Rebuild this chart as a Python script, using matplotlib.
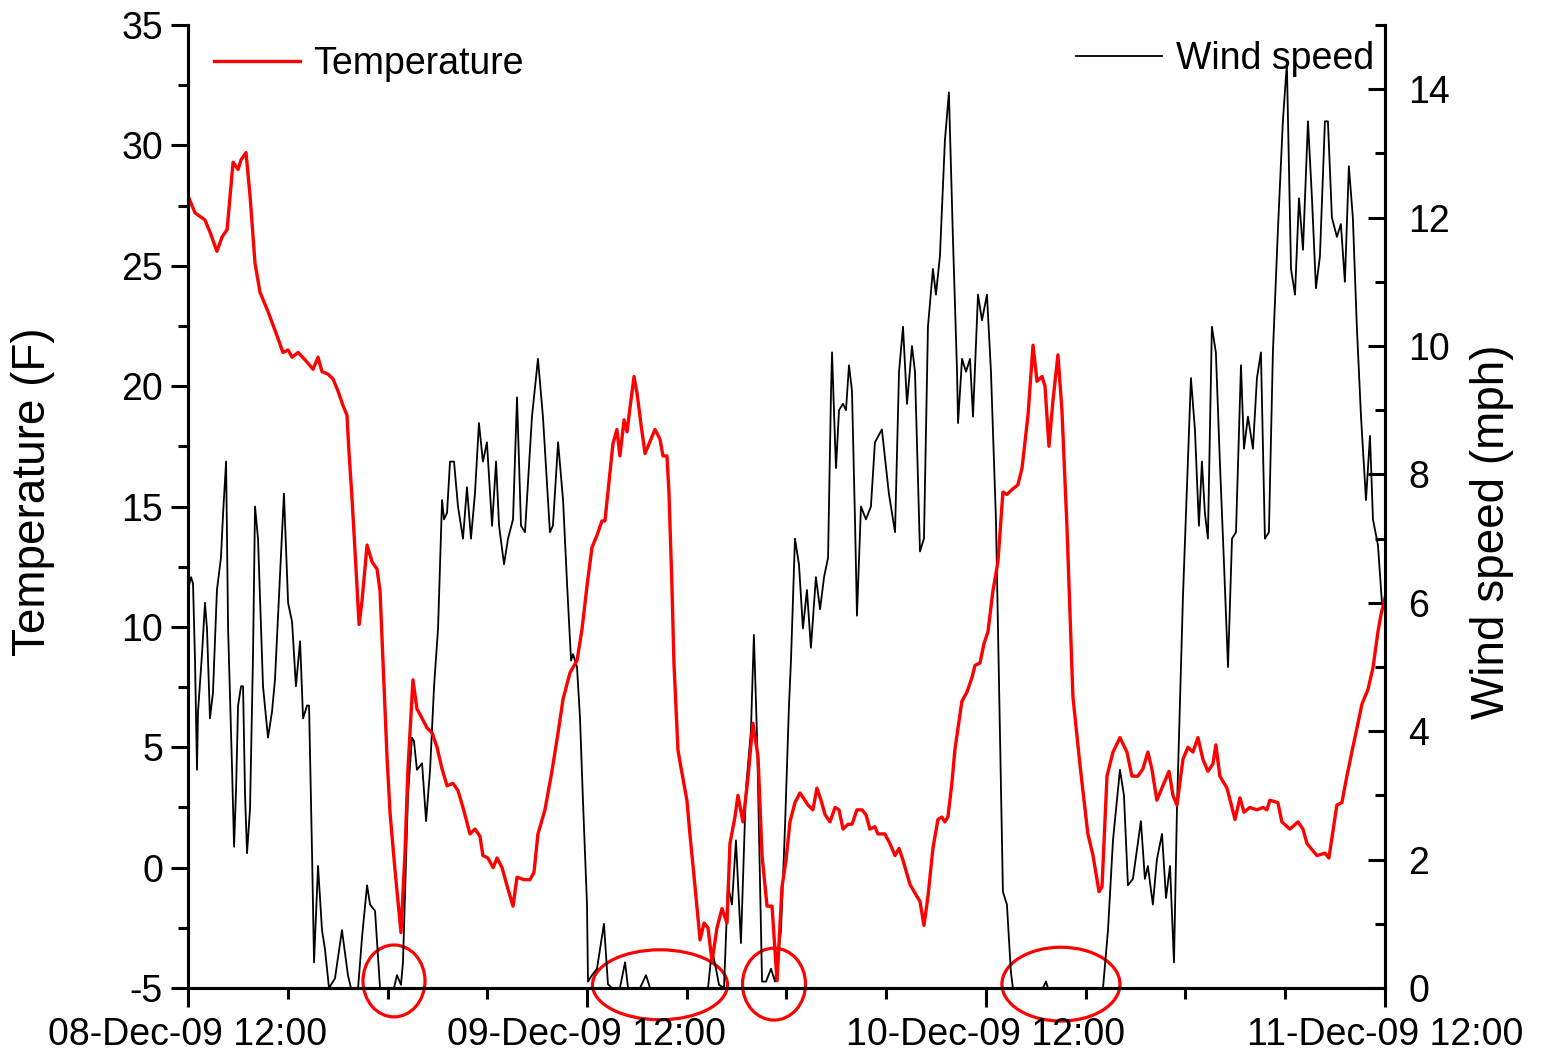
import numpy as np
import pandas as pd
import matplotlib
matplotlib.use("Agg")
import matplotlib.pyplot as plt
import matplotlib.dates as mdates
from matplotlib.patches import Ellipse

plt.rcParams['font.family'] = ['Liberation Sans', 'DejaVu Sans']
plt.rcParams['axes.unicode_minus'] = False

start = pd.Timestamp("2009-12-08 12:00")

# temperature (F), hours after start
temp_hours = [0.00, 0.42, 1.02, 1.32, 1.74, 2.05, 2.35, 2.71, 3.01, 3.19, 3.49, 3.73, 4.03, 4.33, 4.81,
              5.35, 5.71, 6.02, 6.26, 6.62, 7.16, 7.52, 7.82, 8.06, 8.42, 8.72, 9.02, 9.32, 9.56, 9.68,
              9.86, 10.05, 10.29, 10.47, 10.77, 11.07, 11.37, 11.55, 11.73, 11.97, 12.15, 12.45, 12.81,
              13.05, 13.23, 13.53, 13.77, 14.08, 14.38, 14.68, 14.98, 15.28, 15.58, 15.94, 16.24, 16.54,
              16.96, 17.26, 17.56, 17.74, 18.04, 18.35, 18.59, 18.89, 19.25, 19.55, 19.79, 20.21, 20.57,
              20.81, 21.05, 21.47, 21.89, 22.26, 22.56, 22.98, 23.40, 23.70, 24.00, 24.30, 24.60, 24.90,
              25.08, 25.26, 25.56, 25.80, 25.98, 26.23, 26.41, 26.53, 26.83, 27.01, 27.25, 27.49, 27.79,
              28.09, 28.39, 28.57, 28.81, 28.93, 29.11, 29.23, 29.47, 29.59, 30.01, 30.19, 30.50, 30.80,
              31.04, 31.28, 31.52, 31.82, 32.12, 32.42, 32.60, 32.90, 33.08, 33.38, 33.68, 33.98, 34.29,
              34.53, 34.83, 35.13, 35.43, 35.73, 35.97, 36.21, 36.51, 36.81, 37.11, 37.29, 37.59, 37.83,
              38.08, 38.32, 38.62, 38.92, 39.16, 39.40, 39.70, 39.94, 40.24, 40.54, 40.78, 41.02, 41.32,
              41.50, 41.92, 42.22, 42.53, 42.77, 43.01, 43.43, 43.85, 44.03, 44.27, 44.51, 44.81, 45.11,
              45.35, 45.53, 45.71, 45.95, 46.13, 46.55, 46.86, 47.16, 47.34, 47.64, 47.88, 48.12, 48.42,
              48.72, 49.02, 49.26, 49.56, 49.92, 50.17, 50.53, 50.83, 51.07, 51.37, 51.55, 51.79, 52.03,
              52.33, 52.57, 52.87, 53.23, 53.65, 54.13, 54.44, 54.80, 54.98, 55.28, 55.64, 56.06, 56.48,
              56.78, 57.14, 57.44, 57.74, 57.98, 58.28, 58.52, 59.01, 59.25, 59.49, 59.85, 60.15, 60.45,
              60.75, 61.05, 61.35, 61.65, 61.83, 62.07, 62.50, 62.80, 62.98, 63.28, 63.52, 63.88, 64.30,
              64.66, 64.90, 65.08, 65.56, 65.80, 66.28, 66.77, 67.07, 67.31, 67.67, 67.91, 68.39, 68.63,
              68.87, 69.11, 69.41, 69.71, 70.07, 70.38, 70.62, 70.98, 71.28, 71.58, 71.76, 72.00]
temp_vals = [27.9, 27.2, 26.9, 26.4, 25.6, 26.2, 26.5, 29.3, 29.0, 29.4, 29.7, 27.9, 25.1, 23.9, 23.1,
             22.1, 21.4, 21.5, 21.2, 21.4, 21.0, 20.7, 21.2, 20.6, 20.5, 20.3, 19.8, 19.2, 18.8, 17.3,
             15.4, 13.1, 10.1, 11.1, 13.4, 12.7, 12.4, 11.5, 8.5, 4.6, 2.3, -0.1, -2.7,
             0.6, 4.1, 7.8, 6.6, 6.2, 5.8, 5.6, 5.0, 4.1, 3.4, 3.5, 3.2, 2.5,
             1.4, 1.6, 1.3, 0.5, 0.4, 0.0, 0.4, 0.0, -0.9, -1.6, -0.4, -0.5, -0.5,
             -0.2, 1.4, 2.4, 4.0, 5.6, 7.0, 8.1, 8.6, 9.9, 11.7, 13.3, 13.8, 14.4,
             14.4, 15.6, 17.6, 18.2, 17.1, 18.6, 18.1, 18.8, 20.4, 19.7, 18.4, 17.2, 17.7,
             18.2, 17.8, 17.1, 17.1, 15.6, 11.7, 8.5, 4.9, 4.4, 2.8, 1.4, -0.8, -3.0,
             -2.3, -2.5, -3.9, -2.5, -1.7, -2.3, 1.0, 2.1, 3.0, 1.9, 3.7, 6.0, 4.6,
             0.5, -1.6, -1.6, -4.7, -0.8, 0.3, 1.9, 2.7, 3.1, 2.8, 2.6, 2.4, 3.3,
             2.8, 2.2, 1.9, 2.5, 2.4, 1.6, 1.8, 1.8, 2.4, 2.4, 2.2, 1.6, 1.7,
             1.4, 1.4, 1.0, 0.5, 0.8, 0.3, -0.7, -1.2, -1.4, -2.4, -1.2, 0.8, 2.0,
             2.1, 1.9, 2.1, 3.5, 4.9, 6.9, 7.3, 7.9, 8.4, 8.5, 9.3, 9.8, 11.5,
             12.7, 15.6, 15.5, 15.7, 15.9, 16.6, 18.8, 21.7, 20.2, 20.4, 20.0, 17.5, 19.4,
             21.3, 19.0, 14.2, 7.1, 4.3, 1.4, 0.5, -1.0, -0.8, 3.8, 4.8, 5.4, 4.8,
             3.8, 3.8, 4.1, 4.8, 4.1, 2.8, 3.2, 4.0, 3.0, 2.6, 4.5, 5.0, 4.8,
             5.4, 4.5, 4.0, 4.3, 5.1, 3.8, 3.3, 2.5, 2.0, 2.9, 2.3, 2.5, 2.4,
             2.5, 2.4, 2.8, 2.7, 1.9, 1.6, 1.9, 1.6, 1.0, 0.7, 0.5, 0.6, 0.4,
             1.5, 2.6, 2.7, 3.8, 5.0, 6.0, 6.8, 7.4, 8.3, 9.8, 10.5, 11.2]

# wind speed (mph), hours after start
wind_hours = [0.00, 0.18, 0.30, 0.42, 0.54, 0.60, 0.84, 1.02, 1.14, 1.32, 1.50, 1.74, 1.98, 2.11, 2.29,
              2.41, 2.65, 2.77, 2.89, 3.01, 3.19, 3.31, 3.43, 3.55, 3.73, 3.91, 4.03, 4.21, 4.51, 4.81,
              5.05, 5.23, 5.53, 5.77, 6.02, 6.26, 6.49, 6.74, 6.92, 7.16, 7.28, 7.46, 7.58, 7.82, 8.06,
              8.24, 8.48, 8.84, 9.26, 9.62, 9.80, 10.23, 10.47, 10.77, 10.95, 11.25, 11.55, 12.03, 12.39,
              12.57, 12.81, 12.93, 13.23, 13.47, 13.59, 13.77, 14.08, 14.32, 14.56, 14.80, 15.04, 15.28,
              15.40, 15.58, 15.76, 16.00, 16.24, 16.54, 16.78, 17.02, 17.26, 17.50, 17.74, 17.98, 18.29,
              18.53, 18.71, 19.01, 19.25, 19.55, 19.79, 20.03, 20.27, 20.69, 21.05, 21.35, 21.77, 21.95,
              22.26, 22.56, 22.80, 23.04, 23.16, 23.40, 23.58, 23.76, 24.00, 24.06, 24.30, 24.60, 25.02,
              25.26, 25.50, 25.98, 26.29, 26.47, 27.19, 27.55, 27.79, 30.01, 31.28, 31.52, 31.76, 31.94,
              32.24, 32.48, 32.72, 32.96, 33.26, 33.56, 33.86, 34.04, 34.23, 34.53, 34.77, 35.07, 35.31,
              35.67, 35.91, 36.15, 36.27, 36.51, 36.75, 36.99, 37.23, 37.47, 37.77, 38.02, 38.26, 38.50,
              38.68, 38.74, 38.92, 38.98, 39.16, 39.40, 39.58, 39.76, 39.94, 40.12, 40.24, 40.48, 40.78,
              41.08, 41.32, 41.74, 42.16, 42.53, 42.77, 43.01, 43.25, 43.55, 43.73, 44.03, 44.27, 44.51,
              44.81, 44.99, 45.23, 45.53, 45.77, 46.01, 46.26, 46.32, 46.56, 46.80, 47.04, 47.22, 47.52,
              47.76, 48.06, 48.30, 48.60, 48.78, 49.02, 49.26, 49.50, 49.62, 51.43, 51.61, 51.73, 55.04,
              55.34, 55.64, 56.06, 56.30, 56.54, 56.84, 57.08, 57.32, 57.56, 57.74, 58.04, 58.28, 58.59,
              58.83, 59.07, 59.31, 59.49, 59.85, 60.09, 60.33, 60.57, 60.81, 60.99, 61.17, 61.35, 61.59,
              61.83, 62.07, 62.32, 62.56, 62.80, 63.04, 63.34, 63.52, 63.76, 64.06, 64.30, 64.54, 64.78,
              65.02, 65.26, 65.56, 65.86, 66.10, 66.35, 66.59, 66.83, 67.07, 67.37, 67.61, 67.85, 68.09,
              68.39, 68.57, 68.81, 69.11, 69.35, 69.59, 69.83, 70.07, 70.31, 70.56, 70.86, 71.10, 71.28,
              71.58, 71.82, 72.00]
wind_vals = [6.2, 6.4, 6.3, 5.1, 3.4, 4.3, 5.2, 6.0, 5.6, 4.2, 4.6, 6.2, 6.7, 7.4, 8.2,
             5.6, 3.4, 2.2, 3.1, 4.4, 4.7, 4.7, 3.0, 2.1, 2.8, 5.2, 7.5, 7.0, 4.7, 3.9,
             4.3, 4.8, 6.4, 7.7, 6.0, 5.7, 4.7, 5.4, 4.2, 4.4, 4.4, 2.1, 0.4, 1.9, 0.9,
             0.6, 0.0, 0.15, 0.9, 0.2, 0.0, 0.0, 0.8, 1.6, 1.3, 1.2, 0.0, 0.0, 0.0,
             0.2, 0.05, 0.4, 3.0, 3.9, 3.85, 3.4, 3.5, 2.6, 3.4, 4.7, 5.6, 7.6,
             7.3, 7.4, 8.2, 8.2, 7.5, 7.0, 7.8, 7.0, 7.7, 8.8, 8.2, 8.5, 7.2,
             8.2, 7.2, 6.6, 7.0, 7.3, 9.2, 7.2, 7.1, 8.9, 9.8, 8.9, 7.1, 7.2,
             8.5, 7.6, 6.3, 5.1, 5.2, 5.0, 4.2, 2.9, 1.3, 0.1, 0.2, 0.3, 1.0,
             0.06, 0.0, 0.0, 0.4, 0.0, 0.0, 0.2, 0.0, 0.0, 0.0, 0.6, 0.3, 0.05,
             0.0, 1.6, 1.3, 2.3, 0.7, 3.1, 4.0, 5.5, 3.9, 0.1, 0.1, 0.3, 0.1,
             0.9, 2.5, 4.4, 5.1, 7.0, 6.6, 5.6, 6.2, 5.3, 6.4, 5.9, 6.4, 6.7,
             9.3, 9.9, 8.5, 8.1, 9.0, 9.1, 9.0, 9.7, 9.3, 7.3, 5.8, 7.5, 7.3,
             7.5, 8.5, 8.7, 7.7, 7.1, 9.6, 10.3, 9.1, 10.0, 9.6, 6.8, 7.0, 10.3,
             11.2, 10.8, 11.4, 13.2, 13.95, 11.7, 9.6, 8.8, 9.8, 9.6, 9.8, 8.9, 10.8,
             10.4, 10.8, 9.6, 7.3, 4.8, 1.5, 1.3, 0.25, 0.0, 0.0, 0.1, 0.0, 0.0,
             0.9, 2.3, 3.4, 3.0, 1.6, 1.7, 2.15, 2.6, 1.7, 1.9, 1.3, 2.0, 2.4,
             1.4, 1.9, 0.4, 2.8, 6.1, 7.8, 9.5, 8.7, 7.2, 8.2, 7.4, 7.0, 10.3,
             9.9, 8.2, 6.6, 5.0, 7.0, 7.1, 9.7, 8.4, 8.9, 8.4, 9.5, 9.9, 7.0,
             7.1, 9.9, 11.8, 13.5, 14.4, 11.2, 10.8, 12.3, 11.5, 13.5, 12.3, 10.9, 11.4,
             13.5, 13.5, 12.0, 11.7, 11.9, 11.0, 12.8, 12.0, 10.3, 8.9, 7.6, 8.6, 7.3,
             6.9, 6.0, 5.9]

# highlighted calm periods: centre hour, width (h), centre wind, height (mph)
circle_hours = [12.39, 28.39, 35.25, 52.51]
circle_widths = [3.73, 8.12, 3.79, 7.10]
circle_y = [0.11, 0.05, 0.06, 0.06]
circle_heights = [1.12, 1.09, 1.12, 1.15]

temp_t = start + pd.to_timedelta(temp_hours, unit="h")
wind_t = start + pd.to_timedelta(wind_hours, unit="h")

fig = plt.figure(figsize=(15.45, 10.56), dpi=100)
ax = fig.add_axes([0.1217, 0.0644, 0.7747, 0.9119])
ax2 = ax.twinx()

ax2.plot(wind_t, wind_vals, color="black", lw=1.3, label="Wind speed")
ax.plot(temp_t, temp_vals, color="#ff0000", lw=2.4, label="Temperature")

# temperature on top of the wind line
ax.set_zorder(ax2.get_zorder() + 1)
ax.patch.set_visible(False)

for h, w, yc, ht in zip(circle_hours, circle_widths, circle_y, circle_heights):
    xc = mdates.date2num(start + pd.Timedelta(hours=h))
    e = Ellipse((xc, yc), w / 24.0, ht, fill=False, edgecolor="#ff0000", lw=2.3, clip_on=False)
    ax2.add_patch(e)

x0 = mdates.date2num(start)
ax.set_xlim(x0, x0 + 3)
ax.set_ylim(-5, 35)
ax2.set_ylim(0, 15)

ax.xaxis.set_major_locator(mdates.HourLocator(byhour=[12]))
ax.xaxis.set_minor_locator(mdates.HourLocator(byhour=[0, 6, 18]))
ax.xaxis.set_major_formatter(mdates.DateFormatter("%d-%b-%y %H:%M"))

ax.set_yticks(np.arange(-5, 36, 5))
ax.set_yticks(np.arange(-2.5, 35, 5), minor=True)
ax2.set_yticks(np.arange(0, 15, 2))
ax2.set_yticks(np.arange(1, 16, 2), minor=True)

for a in (ax, ax2):
    a.spines["top"].set_visible(False)
    for s in a.spines.values():
        s.set_linewidth(2.2)

ax.tick_params(axis="x", which="major", direction="out", length=14, width=2.2, labelsize=27, pad=7)
ax.tick_params(axis="x", which="minor", direction="out", length=8, width=2.2)
ax.tick_params(axis="y", which="major", direction="out", length=12, width=2.2, labelsize=27, pad=6)
ax.tick_params(axis="y", which="minor", direction="out", length=7, width=2.2)
ax2.tick_params(axis="y", which="major", direction="in", length=12, width=2.2, labelsize=27, pad=17)
ax2.tick_params(axis="y", which="minor", direction="in", length=7, width=2.2)

ax.set_ylabel("Temperature (F)", fontsize=33)
ax2.set_ylabel("Wind speed (mph)", fontsize=33)
ax.yaxis.set_label_coords(-0.111, 0.515)
ax2.yaxis.set_label_coords(1.071, 0.4735)

ax.legend(loc="upper left", bbox_to_anchor=(0.012, 0.99), frameon=False, fontsize=27,
          handlelength=2.3, handletextpad=0.35, borderaxespad=0.0, borderpad=0.3)
ax2.legend(loc="upper right", bbox_to_anchor=(1.0, 0.995), frameon=False, fontsize=27,
           handlelength=2.3, handletextpad=0.35, borderaxespad=0.0, borderpad=0.3)

fig.savefig("out.png", dpi=100)
